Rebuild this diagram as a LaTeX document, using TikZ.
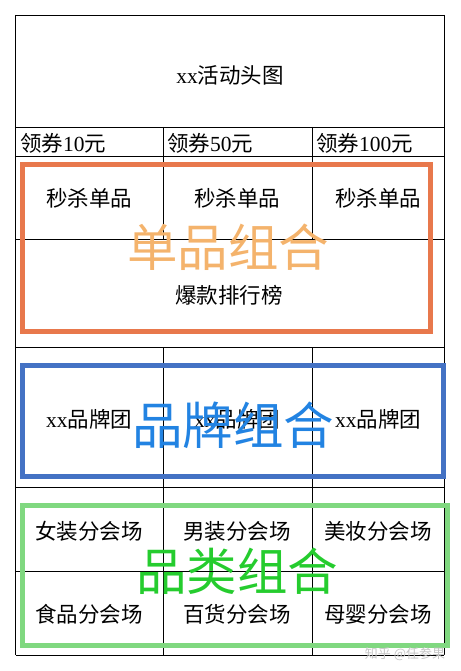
\documentclass[tikz,border=0pt]{standalone}
\usepackage{fontspec}
\setmainfont{Liberation Serif}
\newfontfamily\cjk{Noto Sans CJK SC}
\usetikzlibrary{positioning}

\definecolor{boxorange}{HTML}{E8784C}
\definecolor{txtorange}{HTML}{F4B36C}
\definecolor{boxblue}{HTML}{4472C4}
\definecolor{txtblue}{HTML}{2283E2}
\definecolor{boxgreen}{HTML}{80D880}
\definecolor{txtgreen}{HTML}{25CC2E}

\newcommand{\zh}[1]{{\cjk #1}}

\tikzset{
  cell/.style={inner sep=0pt, font=\fontsize{21.5}{25}\selectfont},
  grid/.style={black, line width=0.9pt},
  group/.style={line width=5pt},
  bigtag/.style={inner sep=0pt, font=\cjk\fontsize{50.5}{60}\selectfont}
}

\begin{document}
\begin{tikzpicture}[x=1pt,y=-1pt]
  \useasboundingbox (0,0) rectangle (460,671);
  % table lines
  \foreach \y in {15,127,156,239,347,487,571,655}
    \draw[grid] (15.5,\y) -- (444,\y);
  \draw[grid] (15.5,15) -- (15.5,655);
  \draw[grid] (444,15) -- (444,655);
  \foreach \x in {163,312} {
    \draw[grid] (\x,127) -- (\x,239);
    \draw[grid] (\x,347) -- (\x,655);
  }

  % cell texts
  \node[cell] (head) at (230,75) {xx\zh{活动头图}};
  \node[cell, anchor=west] (q10)  at (20,143)  {\zh{领券}10\zh{元}};
  \node[cell, anchor=west] (q50)  at (167,143) {\zh{领券}50\zh{元}};
  \node[cell, anchor=west] (q100) at (316,143) {\zh{领券}100\zh{元}};
  \node[cell] (ms1) at (89,198)  {\zh{秒杀单品}};
  \node[cell] (ms2) at (237,198) {\zh{秒杀单品}};
  \node[cell] (ms3) at (378,198) {\zh{秒杀单品}};
  \node[cell] (rank) at (229,295) {\zh{爆款排行榜}};
  \node[cell] (br1) at (89,419)  {xx\zh{品牌团}};
  \node[cell] (br2) at (237,419) {xx\zh{品牌团}};
  \node[cell] (br3) at (378,419) {xx\zh{品牌团}};
  \node[cell] (nvz) at (89,531)  {\zh{女装分会场}};
  \node[cell] (nnz) at (237,531) {\zh{男装分会场}};
  \node[cell] (mz)  at (378,531) {\zh{美妆分会场}};
  \node[cell] (sp)  at (89,614)  {\zh{食品分会场}};
  \node[cell] (bh)  at (237,614) {\zh{百货分会场}};
  \node[cell] (my)  at (378,614) {\zh{母婴分会场}};

  % group frames
  \coordinate (o1) at (22,165);  \coordinate (o2) at (430,331);
  \coordinate (b1) at (22,365);  \coordinate (b2) at (443,476);
  \coordinate (g1) at (22,505);  \coordinate (g2) at (447,645);
  \draw[group, boxorange] (o1) rectangle (o2);
  \draw[group, boxblue]   (b1) rectangle (b2);
  \draw[group, boxgreen]  (g1) rectangle (g2);

  \node[bigtag, txtorange] (danpin) at (228,247) {单品组合};
  \node[bigtag, txtblue]   (pinpai) at (233,425) {品牌组合};
  \node[bigtag, txtgreen]  (pinlei) at (237,571) {品类组合};

  \node[inner sep=0pt, gray!45, font=\cjk\fontsize{13}{15}\selectfont]
    (mark) at (405,654) {知乎 @任参果};
\end{tikzpicture}
\end{document}
